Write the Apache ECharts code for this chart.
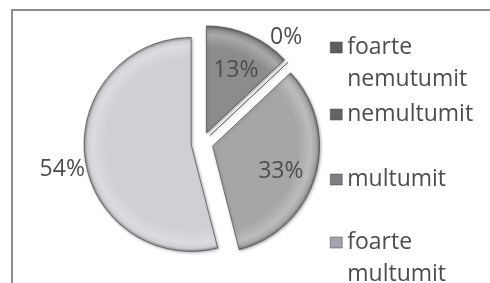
<!DOCTYPE html>
<html>
<head>
<meta charset="utf-8">
<script src="https://cdn.jsdelivr.net/npm/echarts@6/dist/echarts.min.js"></script>
<style>
  html, body { margin: 0; padding: 0; background: #fff; }
  #chart { width: 490px; height: 283px; }
</style>
</head>
<body>
<div id="chart"></div>
<script>
// data
const categories = ['foarte nemutumit', 'nemultumit', 'multumit', 'foarte multumit'];
const percents = [13, 0, 33, 54];

const sliceColors = ['#8c8c8f', '#7a7a7d', '#a6a6a9', '#cfd0d4'];
const legendColors = ['#5e5e62', '#646468', '#7e7e82', '#a4a4ac'];
const textColor = '#4d4d4d';
const font = 'Open Sans';

function mix(hex, target, t) {
  const a = parseInt(hex.slice(1), 16), b = parseInt(target.slice(1), 16);
  const ch = s => Math.round(((a >> s) & 255) * (1 - t) + ((b >> s) & 255) * t);
  return 'rgb(' + ch(16) + ',' + ch(8) + ',' + ch(0) + ')';
}

// bevel-ish look: flat middle, light rim, dark edge
function bevel(c) {
  return {
    type: 'radial', x: 202, y: 143, r: 107, global: true,
    colorStops: [
      { offset: 0, color: c },
      { offset: 0.8, color: c },
      { offset: 0.92, color: mix(c, '#ffffff', 0.25) },
      { offset: 0.97, color: c },
      { offset: 1, color: mix(c, '#000000', 0.3) }
    ]
  };
}

// label nudges (padding shifts the rich text box)
const labelOpts = [
  { position: 'inside', padding: [0, 0, 22, 14] },
  { position: 'inside', padding: [0, 0, 118, 70] },
  { position: 'inside', padding: [20, 0, 0, 28] },
  { position: 'outside', distanceToLabelLine: 0, padding: [24, 0, 0, 0] }
];
const legendTops = [36, 103, 168, 231];

const legends = categories.map((name, i) => {
  const twoLines = name.indexOf(' ') > 0;
  return {
    left: 330, top: legendTops[i], orient: 'vertical', padding: 0,
    icon: 'rect', itemWidth: 12, itemHeight: 11, selectedMode: false,
    data: [{ name: name, itemStyle: { color: legendColors[i], borderColor: '#444', borderWidth: 0.5 } }],
    formatter: n => n.split(' ').map(w => '{t|' + w + '}').join('\n'),
    textStyle: {
      padding: twoLines ? [32, 0, 0, 0] : 0,
      rich: { t: { fontFamily: font, fontSize: 23, lineHeight: 32, color: textColor } }
    }
  };
});

const chart = echarts.init(document.getElementById('chart'), null, { renderer: 'canvas' });
chart.setOption({
  animation: false,
  backgroundColor: '#fff',
  graphic: [{
    type: 'rect', z: -10,
    shape: { x: 12, y: 10, width: 520, height: 320 },
    style: { fill: 'transparent', stroke: '#8c8c8c', lineWidth: 2 }
  }],
  legend: legends,
  series: [{
    type: 'pie',
    center: [202, 143],
    radius: 107,
    startAngle: 90,
    clockwise: true,
    silent: true,
    selectedMode: 'multiple',
    selectedOffset: 11,
    avoidLabelOverlap: false,
    itemStyle: {
      borderColor: 'rgba(60,60,60,0.6)', borderWidth: 1,
      shadowBlur: 3, shadowColor: 'rgba(0,0,0,0.35)', shadowOffsetX: 1, shadowOffsetY: 1
    },
    label: {
      formatter: p => '{v|' + p.value + '%}',
      rich: { v: { fontFamily: font, fontSize: 23, lineHeight: 28, color: textColor } }
    },
    labelLine: { show: false, length: 0, length2: 0 },
    data: categories.map((name, i) => ({
      name: name,
      value: percents[i],
      selected: true,
      itemStyle: { color: bevel(sliceColors[i]) },
      label: labelOpts[i]
    }))
  }]
});
</script>
</body>
</html>
